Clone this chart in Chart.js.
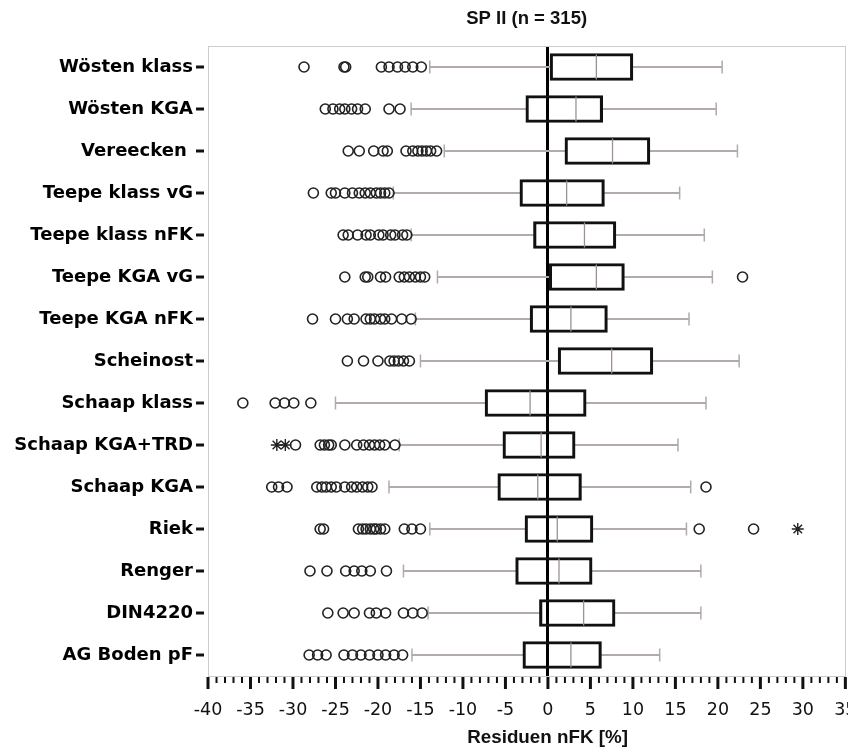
<!DOCTYPE html>
<html>
<head>
<meta charset="utf-8">
<title>SP II (n = 315)</title>
<script src="https://cdn.jsdelivr.net/npm/chart.js@4/dist/chart.umd.min.js"></script>
<style>
    html, body { margin: 0; padding: 0; background: #fff; overflow: hidden; }
    #wrap { width: 866px; height: 753px; }
</style>
</head>
<body>
<div id="wrap"><canvas id="residuals"></canvas></div>
<script>
var categories = ['Wösten klass', 'Wösten KGA', 'Vereecken ', 'Teepe klass vG', 'Teepe klass nFK',
    'Teepe KGA vG', 'Teepe KGA nFK', 'Scheinost', 'Schaap klass', 'Schaap KGA+TRD',
    'Schaap KGA', 'Riek', 'Renger', 'DIN4220', 'AG Boden pF'];

var whiskerLow = [-13.9, -16.1, -12.2, -18.2, -16.1, -13.0, -15.6, -15.0, -25.0, -17.5, -18.7, -13.9, -17.0, -14.1, -16.0];
var q1 = [0.25, -2.6, 2.0, -3.3, -1.7, 0.15, -2.1, 1.2, -7.4, -5.3, -5.9, -2.7, -3.8, -1.0, -2.95];
var median = [5.7, 3.3, 7.6, 2.2, 4.3, 5.7, 2.7, 7.5, -2.1, -0.8, -1.2, 1.1, 1.3, 4.2, 2.7];
var q3 = [10.0, 6.45, 12.0, 6.65, 8.0, 9.0, 7.0, 12.35, 4.5, 3.2, 3.95, 5.3, 5.2, 7.9, 6.3];
var whiskerHigh = [20.5, 19.8, 22.3, 15.5, 18.4, 19.35, 16.6, 22.5, 18.6, 15.3, 16.8, 16.3, 18.0, 18.0, 13.15];

// outliers (circles) and extreme values (stars), one list per category
var outliers = [
    [-28.7, -24.0, -23.8, -19.6, -18.7, -17.7, -16.8, -15.9, -14.9],
    [-26.2, -25.3, -24.5, -23.9, -23.1, -22.4, -21.5, -18.7, -17.4],
    [-23.5, -22.2, -20.5, -19.4, -18.9, -16.7, -15.9, -15.3, -14.8, -14.3, -13.8, -13.1],
    [-27.6, -25.5, -25.0, -23.9, -23.0, -22.2, -21.5, -20.9, -20.2, -19.7, -19.2, -18.7],
    [-24.1, -23.5, -22.4, -21.4, -20.9, -19.9, -19.4, -18.5, -18.0, -17.1, -16.6],
    [-23.9, -21.5, -21.2, -19.7, -19.1, -17.5, -16.9, -16.3, -15.6, -15.0, -14.5, 22.9],
    [-27.7, -25.0, -23.6, -22.8, -21.4, -20.9, -20.4, -19.7, -19.2, -18.4, -17.2, -16.1],
    [-23.6, -21.7, -20.0, -18.6, -18.1, -17.6, -17.0, -16.3],
    [-35.9, -32.1, -31.0, -29.9, -27.9],
    [-29.7, -26.8, -26.3, -25.8, -25.5, -23.9, -22.5, -21.7, -21.0, -20.4, -19.8, -19.2, -18.0],
    [-32.5, -31.7, -30.7, -27.2, -26.6, -26.1, -25.5, -24.9, -23.9, -23.1, -22.5, -21.8, -21.2, -20.7, 18.6],
    [-26.8, -26.4, -22.3, -21.8, -21.4, -20.9, -20.5, -20.2, -19.7, -19.2, -16.9, -16.0, -15.0, 17.8, 24.2],
    [-28.0, -26.0, -23.8, -22.8, -21.9, -20.9, -19.0],
    [-25.9, -24.1, -22.8, -21.0, -20.2, -19.1, -17.0, -15.9, -14.8],
    [-28.1, -27.1, -26.1, -24.0, -23.0, -22.0, -21.0, -20.0, -19.1, -18.1, -17.1]
];
var extremes = [[], [], [], [], [], [], [], [], [], [-31.9, -30.9], [], [29.4], [], [], []];

var xTicksMin = -40;
var xTicksMax = 35;

var frameColor = '#d4c9c9';
var whiskerColor = '#b3aaaa';
var medianColor = '#9d9191';

function pointsFrom(lists) {
    var pts = [];
    lists.forEach(function (list, i) {
        list.forEach(function (v) {
            pts.push({ x: v, y: categories[i] });
        });
    });
    return pts;
}

var boxData = categories.map(function (c, i) { return [q1[i], q3[i]]; });
var lowerWhisker = categories.map(function (c, i) { return [whiskerLow[i], q1[i]]; });
var upperWhisker = categories.map(function (c, i) { return [q3[i], whiskerHigh[i]]; });
var medianPoints = categories.map(function (c, i) { return { x: median[i], y: c }; });
var capPoints = pointsFrom(categories.map(function (c, i) { return [whiskerLow[i], whiskerHigh[i]]; }));

// tick marks: long ones every 5 %, short ones every 1 %, dashes at the categories
var axisTicks = {
    id: 'axisTicks',
    afterDraw: function (chart) {
        var ctx = chart.ctx;
        var xs = chart.scales.x;
        var ys = chart.scales.y;
        ctx.save();
        ctx.strokeStyle = '#111';
        xs.ticks.forEach(function (t) {
            var px = xs.getPixelForValue(t.value);
            var major = t.value % 5 === 0;
            ctx.lineWidth = major ? 3 : 2;
            ctx.beginPath();
            ctx.moveTo(px, xs.top + 1);
            ctx.lineTo(px, xs.top + (major ? 13 : 7));
            ctx.stroke();
        });
        ys.ticks.forEach(function (t, i) {
            var py = ys.getPixelForTick(i);
            ctx.lineWidth = 3;
            ctx.beginPath();
            ctx.moveTo(ys.right - 12, py);
            ctx.lineTo(ys.right - 4, py);
            ctx.stroke();
        });
        ctx.restore();
    }
};

new Chart(document.getElementById('residuals'), {
    type: 'bar',
    data: {
        labels: categories,
        datasets: [
            {
                label: 'Box',
                data: boxData,
                grouped: false,
                barThickness: 27,
                backgroundColor: 'rgba(255,255,255,0)',
                borderColor: '#111',
                borderWidth: 2.5,
                borderSkipped: false,
                order: 3
            }, {
                label: 'Whisker low',
                data: lowerWhisker,
                grouped: false,
                barThickness: 1.2,
                backgroundColor: whiskerColor,
                borderWidth: 0,
                order: 6
            }, {
                label: 'Whisker high',
                data: upperWhisker,
                grouped: false,
                barThickness: 1.2,
                backgroundColor: whiskerColor,
                borderWidth: 0,
                order: 6
            }, {
                type: 'scatter',
                label: 'Caps',
                data: capPoints,
                xAxisID: 'x',
                yAxisID: 'y',
                pointStyle: 'line',
                rotation: 90,
                pointRadius: 6.5,
                borderColor: whiskerColor,
                borderWidth: 1.5,
                order: 5
            }, {
                type: 'scatter',
                label: 'Median',
                data: medianPoints,
                xAxisID: 'x',
                yAxisID: 'y',
                pointStyle: 'line',
                rotation: 90,
                pointRadius: 12.5,
                borderColor: medianColor,
                borderWidth: 1.3,
                order: 2
            }, {
                type: 'scatter',
                label: 'Outliers',
                data: pointsFrom(outliers),
                xAxisID: 'x',
                yAxisID: 'y',
                pointStyle: 'circle',
                pointRadius: 5,
                backgroundColor: 'rgba(255,255,255,0)',
                borderColor: '#222',
                borderWidth: 1.6,
                order: 1
            }, {
                type: 'scatter',
                label: 'Extremes',
                data: pointsFrom(extremes),
                xAxisID: 'x',
                yAxisID: 'y',
                pointStyle: 'star',
                pointRadius: 6,
                borderColor: '#222',
                borderWidth: 1.4,
                order: 1
            }
        ]
    },
    options: {
        indexAxis: 'y',
        responsive: true,
        maintainAspectRatio: false,
        animation: false,
        events: [],
        layout: { padding: 0 },
        plugins: {
            legend: { display: false },
            tooltip: { enabled: false }
        },
        scales: {
            x: {
                type: 'linear',
                position: 'bottom',
                min: xTicksMin,
                max: xTicksMax,
                afterFit: function (scale) { scale.height = 77; },
                ticks: {
                    stepSize: 1,
                    autoSkip: false,
                    maxRotation: 0,
                    padding: 9.5,
                    color: '#111',
                    font: { family: 'DejaVu Sans', size: 17.5 },
                    callback: function (v) { return v % 5 === 0 ? String(v) : ''; }
                },
                grid: {
                    drawTicks: true,
                    tickLength: 14,
                    tickColor: 'rgba(0,0,0,0)',
                    color: function (c) { return c.tick && c.tick.value === 0 ? '#000' : 'rgba(0,0,0,0)'; },
                    lineWidth: function (c) { return c.tick && c.tick.value === 0 ? 3 : 1; }
                },
                border: { color: frameColor, width: 1 },
                title: {
                    display: true,
                    // leading spaces push the caption a little to the right of the plot centre
                    text: '        Residuen nFK [%]',
                    color: '#111',
                    font: { family: 'Liberation Sans', weight: 'bold', size: 18.8 },
                    padding: { top: 6, bottom: 4 }
                }
            },
            x2: {
                type: 'linear',
                position: 'top',
                min: xTicksMin,
                max: xTicksMax,
                afterFit: function (scale) { scale.height = 46; },
                ticks: { display: false },
                grid: { display: false, drawTicks: false },
                border: { color: frameColor, width: 1 },
                title: {
                    display: true,
                    text: 'SP II (n = 315)',
                    color: '#111',
                    font: { family: 'Liberation Sans', weight: 'bold', size: 18.5 },
                    padding: { top: 8, bottom: 16 }
                }
            },
            y: {
                type: 'category',
                position: 'left',
                offset: true,
                afterFit: function (scale) { scale.width = 208; },
                ticks: {
                    padding: 1,
                    color: '#000',
                    font: { family: 'DejaVu Sans', weight: 'bold', size: 18 }
                },
                grid: {
                    drawOnChartArea: false,
                    drawTicks: true,
                    tickLength: 14,
                    tickColor: 'rgba(0,0,0,0)'
                },
                border: { color: frameColor, width: 1 }
            },
            y2: {
                type: 'linear',
                position: 'right',
                ticks: { display: false },
                grid: { display: false, drawTicks: false },
                border: { color: frameColor, width: 1 }
            }
        }
    },
    plugins: [axisTicks]
});
</script>
</body>
</html>
